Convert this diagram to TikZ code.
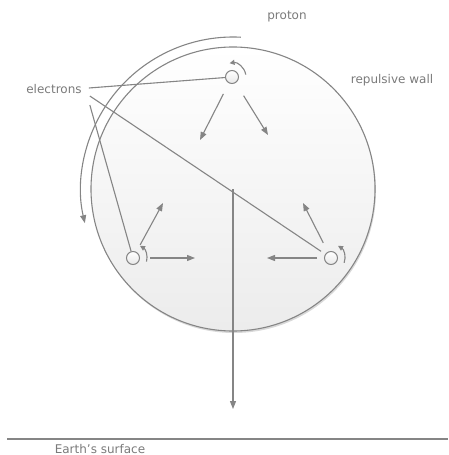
\documentclass[tikz,border=0pt]{standalone}
\usepackage{fontspec}
\setmainfont{DejaVu Sans}
\usetikzlibrary{positioning, arrows.meta, shadows}

\definecolor{ink}{HTML}{858585}
\definecolor{txt}{HTML}{7A7A7A}

\begin{document}
\begin{tikzpicture}[x=1pt, y=-1pt,
    conn/.style={draw=ink, line width=1.1pt},
    force/.style={conn, -{Triangle[length=8pt, width=6pt]}},
    spin/.style={conn, -{Triangle[length=5pt, width=5pt]}},
    lbl/.style={font=\fontsize{12}{14}\selectfont, text=txt, inner sep=2pt},
    wall/.style={circle, draw=ink, line width=1.1pt, top color=white, bottom color=gray!15,
        minimum size=284pt, drop shadow={shadow xshift=1pt, shadow yshift=-2pt, opacity=0.3, fill=gray}},
    electron/.style={circle, draw=ink, line width=1pt, top color=white, bottom color=gray!18,
        minimum size=13pt, inner sep=0pt},
]
\useasboundingbox (0,0) rectangle (448,455);

\node[wall] (wall) at (233,189) {};

\node[lbl] (proton) at (287,17) {proton};
\node[lbl] (rwall)  at (392,80) {repulsive wall};
\node[lbl] (elec)   at (54,89)  {electrons};
\node[lbl] (earth)  at (100,449) {Earth's surface};

\draw[conn] (7,439) -- (448,439);

\draw[force] ([shift={(87:152pt)}]wall.center) arc[start angle=87, end angle=193, radius=152pt];

\coordinate (gdown) at (233,409);
\draw[force] (wall.center) -- (gdown);

\node[electron] (e1) at (232,77)  {};
\node[electron] (e2) at (133,258) {};
\node[electron] (e3) at (331,258) {};

\draw[conn] ([xshift=5pt, yshift=1pt]elec.east) -- (e1);
\draw[conn] ([xshift=6pt, yshift=-16pt]elec.east) -- (e2);
\draw[conn, shorten >=5pt] ([xshift=6pt, yshift=-7pt]elec.east) -- (e3);

\coordinate (e1l) at (200,140);
\coordinate (e1r) at (268,135);
\coordinate (e2u) at (163,203);
\coordinate (e2r) at (195,258);
\coordinate (e3u) at (303,203);
\coordinate (e3l) at (267,258);

\draw[force, shorten <=12pt] (e1) -- (e1l);
\draw[force, shorten <=15pt] (e1) -- (e1r);
\draw[force, shorten <=8pt] (e2) -- (e2u);
\draw[force, shorten <=10pt] (e2) -- (e2r);
\draw[force, shorten <=10pt] (e3) -- (e3u);
\draw[force, shorten <=7pt] (e3) -- (e3l);

\draw[spin] ([shift={(10:14pt)}]e1.center) arc[start angle=10, end angle=100, radius=14pt];
\draw[spin] ([shift={(-15:14pt)}]e2.center) arc[start angle=-15, end angle=60, radius=14pt];
\draw[spin] ([shift={(-20:14pt)}]e3.center) arc[start angle=-20, end angle=60, radius=14pt];
\end{tikzpicture}
\end{document}
